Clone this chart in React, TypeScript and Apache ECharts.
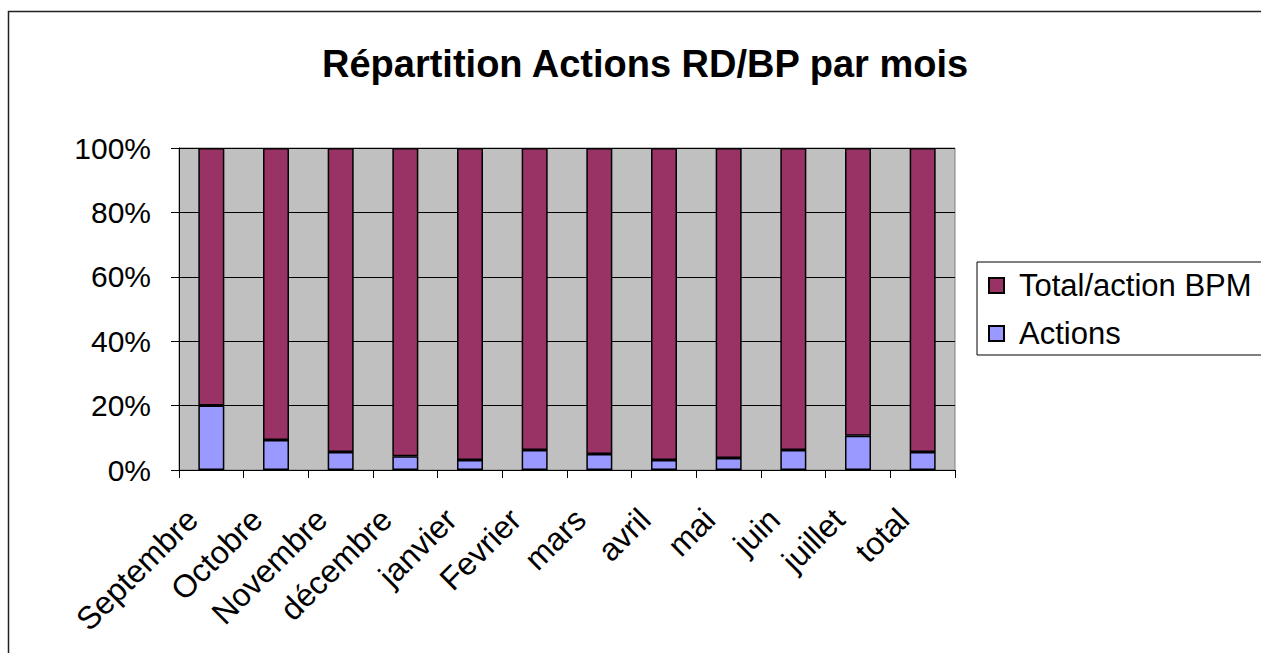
import React, { useEffect, useRef } from "react";
import * as echarts from "echarts";

const categories = ["Septembre", "Octobre", "Novembre", "décembre", "janvier", "Fevrier", "mars", "avril", "mai", "juin", "juillet", "total"];
const actions = [20, 9.3, 5.6, 4.3, 3.1, 6.2, 5.0, 3.1, 3.7, 6.2, 10.6, 5.6];
const totalBpm = actions.map((v) => 100 - v);
const yTicks = [0, 20, 40, 60, 80, 100];

const FONT = "'Liberation Sans', Arial, sans-serif";

export default function App() {
  const ref = useRef<HTMLDivElement>(null);
  useEffect(() => {
    if (!ref.current) return;
    const chart = echarts.init(ref.current, null, { renderer: "svg" });
    chart.setOption({
      animation: false,
      backgroundColor: "#ffffff",
      title: {
        text: "Répartition Actions RD/BP par mois",
        left: 317,
        top: 40,
        textStyle: { fontFamily: FONT, fontSize: 38, fontWeight: "bold", color: "#000" },
      },
      grid: {
        left: 179,
        top: 148,
        width: 776,
        height: 322,
        show: true,
        backgroundColor: "#C0C0C0",
        borderColor: "#808080",
        borderWidth: 1,
      },
      legend: {
        orient: "vertical",
        left: 977,
        top: 262,
        data: ["Total/action BPM", "Actions"],
        icon: "rect",
        itemWidth: 15,
        itemHeight: 15,
        itemGap: 17,
        padding: [8, 40, 6, 11],
        borderColor: "#000",
        borderWidth: 1,
        textStyle: { fontFamily: FONT, fontSize: 31, color: "#000", padding: [0, 0, 0, 10] },
      },
      xAxis: {
        type: "category",
        data: categories,
        boundaryGap: true,
        axisLine: { show: true, lineStyle: { color: "#000", width: 1 } },
        axisTick: { show: true, inside: false, length: 8, alignWithLabel: false, lineStyle: { color: "#000" } },
        axisLabel: {
          rotate: 45,
          margin: 25,
          padding: [0, 27, 0, 0],
          fontFamily: FONT,
          fontSize: 32,
          color: "#000",
          interval: 0,
        },
        splitLine: { show: false },
      },
      yAxis: {
        type: "value",
        min: 0,
        max: 100,
        interval: 20,
        axisLine: { show: true, lineStyle: { color: "#000", width: 1 } },
        axisTick: { show: true, inside: false, length: 8, lineStyle: { color: "#000" } },
        axisLabel: {
          margin: 28,
          fontFamily: FONT,
          fontSize: 30,
          color: "#000",
          formatter: (v: number) => (yTicks.includes(v) ? v + "%" : ""),
        },
        splitLine: { show: true, lineStyle: { color: "#000", width: 1 } },
      },
      series: [
        {
          name: "Actions",
          type: "bar",
          stack: "s",
          data: actions,
          barWidth: 26,
          itemStyle: { color: "#9999FF", borderColor: "#000", borderWidth: 1.5 },
        },
        {
          name: "Total/action BPM",
          type: "bar",
          stack: "s",
          data: totalBpm,
          barWidth: 26,
          itemStyle: { color: "#993366", borderColor: "#000", borderWidth: 1.5 },
        },
      ],
      graphic: [
        {
          type: "polyline",
          shape: { points: [[8.5, 700], [8.5, 11.5], [1300, 11.5]] },
          style: { stroke: "#222", lineWidth: 1.5, fill: "none" },
          silent: true,
        },
      ],
    });
    return () => chart.dispose();
  }, []);
  return <div ref={ref} style={{ position: "absolute", left: 0, top: 0, width: 1261, height: 653 }} />;
}
